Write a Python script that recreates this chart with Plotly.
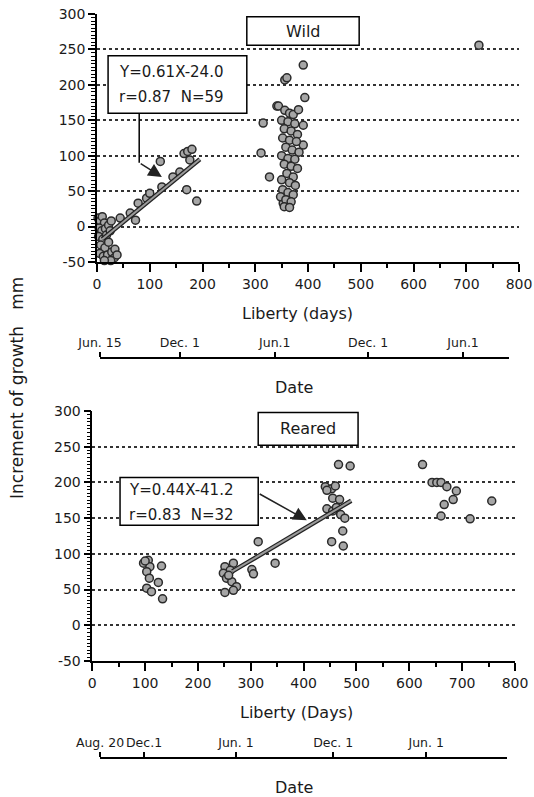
import plotly.graph_objects as go

# ---------------- data ----------------
wild_days = [2, 6, 10, 14, 4, 9, 16, 22, 27, 3, 11, 18, 25, 7, 15, 22, 5, 12, 20, 28, 34, 33, 26, 14, 38,
             44, 63, 73, 78, 94, 100, 123, 144, 157, 176, 120, 170, 189, 165, 172, 180,
             311, 315, 327, 341, 344, 356, 360, 391, 394, 356, 365, 372, 382, 391, 391, 353,
             350, 362, 375, 355, 368, 380, 352, 365, 378, 358, 370, 383, 350, 362, 375, 355, 368, 380,
             360, 372, 350, 365, 376, 352, 362, 372, 348, 358, 368, 355, 365,
             724]
wild_incr = [12, 8, 14, 5, -2, -6, -3, 2, 8, -14, -18, -12, -6, -26, -30, -22, -38, -42, -40, -36, -32, -44, -48, -48, -40,
             12, 19, 9, 33, 40, 47, 56, 70, 77, 94, 92, 52, 36, 103, 106, 109,
             104, 146, 70, 170, 170, 207, 210, 228, 182, 164, 160, 158, 165, 143, 115, 33,
             150, 148, 145, 138, 135, 130, 125, 122, 120, 112, 108, 105, 100, 96, 95, 88, 85, 82,
             75, 70, 66, 62, 58, 52, 48, 45, 42, 38, 35, 28, 27,
             256]

reared_days = [106, 97, 109, 103, 108, 131, 125, 103, 112, 133, 100,
               251, 267, 261, 248, 254, 264, 273, 267, 251, 258, 302, 305, 314, 346,
               466, 488, 441, 453, 460, 444, 455, 468, 444, 455, 470, 478, 462, 474, 453, 475,
               625, 643, 652, 660, 671, 689, 683, 666, 660, 715, 756]
reared_incr = [91, 87, 82, 75, 66, 83, 60, 52, 47, 37, 90,
               82, 87, 77, 73, 66, 61, 54, 49, 46, 70, 78, 72, 117, 87,
               225, 223, 194, 191, 195, 189, 178, 176, 163, 160, 155, 150, 165, 132, 117, 111,
               225, 200, 200, 200, 194, 188, 176, 169, 153, 149, 174]

wild_fit = {"slope": 0.61, "intercept": -24.0, "x_from": 10, "x_to": 195}
reared_fit = {"slope": 0.44, "intercept": -41.2, "x_from": 265, "x_to": 490}

wild_date_pos = [5.7, 157, 337, 514, 694]
wild_date_labels = ["Jun. 15", "Dec. 1", "Jun.1", "Dec. 1", "Jun.1"]
reared_date_pos = [14.6, 98, 272, 456, 632]
reared_date_labels = ["Aug. 20", "Dec.1", "Jun. 1", "Dec. 1", "Jun. 1"]

liberty_ticks = [0, 100, 200, 300, 400, 500, 600, 700, 800]
incr_ticks = [-50, 0, 50, 100, 150, 200, 250, 300]
incr_labels = ["-50", "0", "50", "100", "150", "200", "250", "300"]

FONT = "DejaVu Sans"
INK = "#1a1a1a"

fig = go.Figure()


def fit_line(f):
    xs = [f["x_from"], f["x_to"]]
    ys = [f["slope"] * x + f["intercept"] for x in xs]
    return xs, ys


for (xa, ya, dx, dy, f) in [("x", "y", wild_days, wild_incr, wild_fit),
                            ("x2", "y2", reared_days, reared_incr, reared_fit)]:
    fig.add_trace(go.Scatter(x=dx, y=dy, xaxis=xa, yaxis=ya, mode="markers", cliponaxis=False,
                             marker=dict(size=8, color="#a6a6a6", line=dict(color="#2a2a2a", width=1.5)),
                             showlegend=False, hoverinfo="skip"))
    lx, ly = fit_line(f)
    fig.add_trace(go.Scatter(x=lx, y=ly, xaxis=xa, yaxis=ya, mode="lines",
                             line=dict(color="#222", width=4.5), showlegend=False, hoverinfo="skip"))
    fig.add_trace(go.Scatter(x=lx, y=ly, xaxis=xa, yaxis=ya, mode="lines",
                             line=dict(color="#9a9a9a", width=2), showlegend=False, hoverinfo="skip"))

# invisible traces to activate the date axes (paired with hidden y axes)
fig.add_trace(go.Scatter(x=wild_date_pos, y=[None] * len(wild_date_pos), xaxis="x3", yaxis="y3",
                         mode="markers", showlegend=False, hoverinfo="skip"))
fig.add_trace(go.Scatter(x=reared_date_pos, y=[None] * len(reared_date_pos), xaxis="x4", yaxis="y4",
                         mode="markers", showlegend=False, hoverinfo="skip"))

tickfont = dict(family=FONT, size=14, color=INK)
datefont = dict(family=FONT, size=12.5, color=INK)


def xaxis_cfg(domain, anchor):
    return dict(domain=domain, anchor=anchor, range=[0, 800], tickvals=liberty_ticks,
                ticks="outside", ticklen=8, tickwidth=1.5, tickcolor="black",
                minor=dict(dtick=50, ticks="outside", ticklen=4, tickwidth=1.5, tickcolor="black", showgrid=False),
                showline=True, linecolor="black", linewidth=1.5, showgrid=False, zeroline=False,
                tickfont=tickfont, tickangle=0, fixedrange=True, automargin=False)


def yaxis_cfg(domain, anchor):
    return dict(domain=domain, anchor=anchor, range=[-50, 300], tickvals=incr_ticks, ticktext=incr_labels,
                ticks="outside", ticklen=7, tickwidth=1.5, tickcolor="black",
                minor=dict(dtick=5, ticks="outside", ticklen=4, tickwidth=1, tickcolor="black", showgrid=False),
                showline=True, linecolor="black", linewidth=1.5,
                showgrid=True, gridcolor="#333", gridwidth=1.5, griddash="dot", zeroline=False,
                tickfont=tickfont, fixedrange=True, automargin=False)


def date_axis_cfg(domain, rng, pos, vals, labels):
    return dict(domain=domain, anchor="free", position=pos, side="top", range=rng,
                tickvals=vals, ticktext=labels, ticks="outside", ticklen=5, tickwidth=1.5,
                tickcolor="black", showline=True, linecolor="black", linewidth=1.5,
                showgrid=False, zeroline=False, tickfont=datefont, tickangle=0, fixedrange=True,
                automargin=False)


def hidden_y(domain, anchor):
    return dict(domain=domain, anchor=anchor, visible=False, showgrid=False, zeroline=False,
                range=[0, 1], fixedrange=True, automargin=False)


W, H = 534, 797
fig.update_layout(
    width=W, height=H, margin=dict(l=0, r=0, t=0, b=0, autoexpand=False),
    paper_bgcolor="white", plot_bgcolor="rgba(0,0,0,0)",
    font=dict(family=FONT, color=INK),
    xaxis=xaxis_cfg([97 / W, 519 / W], "y"),
    yaxis=yaxis_cfg([1 - 262 / H, 1 - 14 / H], "x"),
    xaxis2=xaxis_cfg([92.3 / W, 515 / W], "y2"),
    yaxis2=yaxis_cfg([1 - 661 / H, 1 - 411 / H], "x2"),
    xaxis3=date_axis_cfg([100 / W, 509 / W], [5.7, 781], 1 - 358 / H, wild_date_pos, wild_date_labels),
    xaxis4=date_axis_cfg([100 / W, 507 / W], [14.6, 785], 1 - 758 / H, reared_date_pos, reared_date_labels),
    yaxis3=hidden_y([1 - 360 / H, 1 - 356 / H], "x3"),
    yaxis4=hidden_y([1 - 760 / H, 1 - 756 / H], "x4"),
)

shapes = []
annotations = []

# panel label boxes
shapes.append(dict(type="rect", xref="x", yref="y", x0=284, x1=497, y0=256, y1=296,
                   line=dict(color="black", width=1.5), fillcolor="white", layer="above"))
annotations.append(dict(x=391, y=276, xref="x", yref="y", text="Wild", showarrow=False,
                        font=dict(family=FONT, size=16, color=INK)))
shapes.append(dict(type="rect", xref="x2", yref="y2", x0=314, x1=503, y0=252, y1=298,
                   line=dict(color="black", width=1.5), fillcolor="white", layer="above"))
annotations.append(dict(x=409, y=275, xref="x2", yref="y2", text="Reared", showarrow=False,
                        font=dict(family=FONT, size=16, color=INK)))

# equation boxes
eqfont = dict(family=FONT, size=15, color=INK)
shapes.append(dict(type="rect", xref="x", yref="y", x0=21, x1=284, y0=160, y1=241,
                   line=dict(color="black", width=1.5), fillcolor="white", layer="above"))
annotations.append(dict(x=38, y=218, xref="x", yref="y", xanchor="left", text="Y=0.61X-24.0",
                        showarrow=False, font=eqfont))
annotations.append(dict(x=38, y=183, xref="x", yref="y", xanchor="left", text="r=0.87  N=59",
                        showarrow=False, font=eqfont))
shapes.append(dict(type="line", xref="x", yref="y", x0=80, x1=80, y0=160, y1=90,
                   line=dict(color="black", width=1.5)))
annotations.append(dict(x=123, y=70, ax=80, ay=90, xref="x", yref="y", axref="x", ayref="y",
                        text="", showarrow=True, arrowhead=2, arrowsize=1.8, arrowwidth=1.5,
                        arrowcolor="#222"))

shapes.append(dict(type="rect", xref="x2", yref="y2", x0=52.5, x1=314, y0=140, y1=207,
                   line=dict(color="black", width=1.5), fillcolor="white", layer="above"))
annotations.append(dict(x=65, y=189, xref="x2", yref="y2", xanchor="left", text="Y=0.44X-41.2",
                        showarrow=False, font=eqfont))
annotations.append(dict(x=65, y=154, xref="x2", yref="y2", xanchor="left", text="r=0.83  N=32",
                        showarrow=False, font=eqfont))
annotations.append(dict(x=406, y=147, ax=314, ay=185, xref="x2", yref="y2", axref="x2", ayref="y2",
                        text="", showarrow=True, arrowhead=2, arrowsize=1.8, arrowwidth=1.5,
                        arrowcolor="#222"))

# axis titles
tfont = dict(family=FONT, size=16, color=INK)
for txt, px, py in [("Liberty (days)", 297.5, 313), ("Date", 294, 388),
                    ("Liberty (Days)", 296, 712), ("Date", 294, 787)]:
    annotations.append(dict(x=px / W, y=1 - py / H, xref="paper", yref="paper", text=txt,
                            showarrow=False, font=tfont, xanchor="center", yanchor="middle"))
annotations.append(dict(x=17 / W, y=1 - 388 / H, xref="paper", yref="paper",
                        text="Increment of growth\u00a0\u00a0\u00a0mm", textangle=-90,
                        showarrow=False, font=dict(family=FONT, size=17, color=INK),
                        xanchor="center", yanchor="middle"))

fig.update_layout(shapes=shapes, annotations=annotations)

fig.write_html("out.html", config={"displayModeBar": False},
               post_script="document.body.style.margin='0';document.body.style.overflow='hidden';")
